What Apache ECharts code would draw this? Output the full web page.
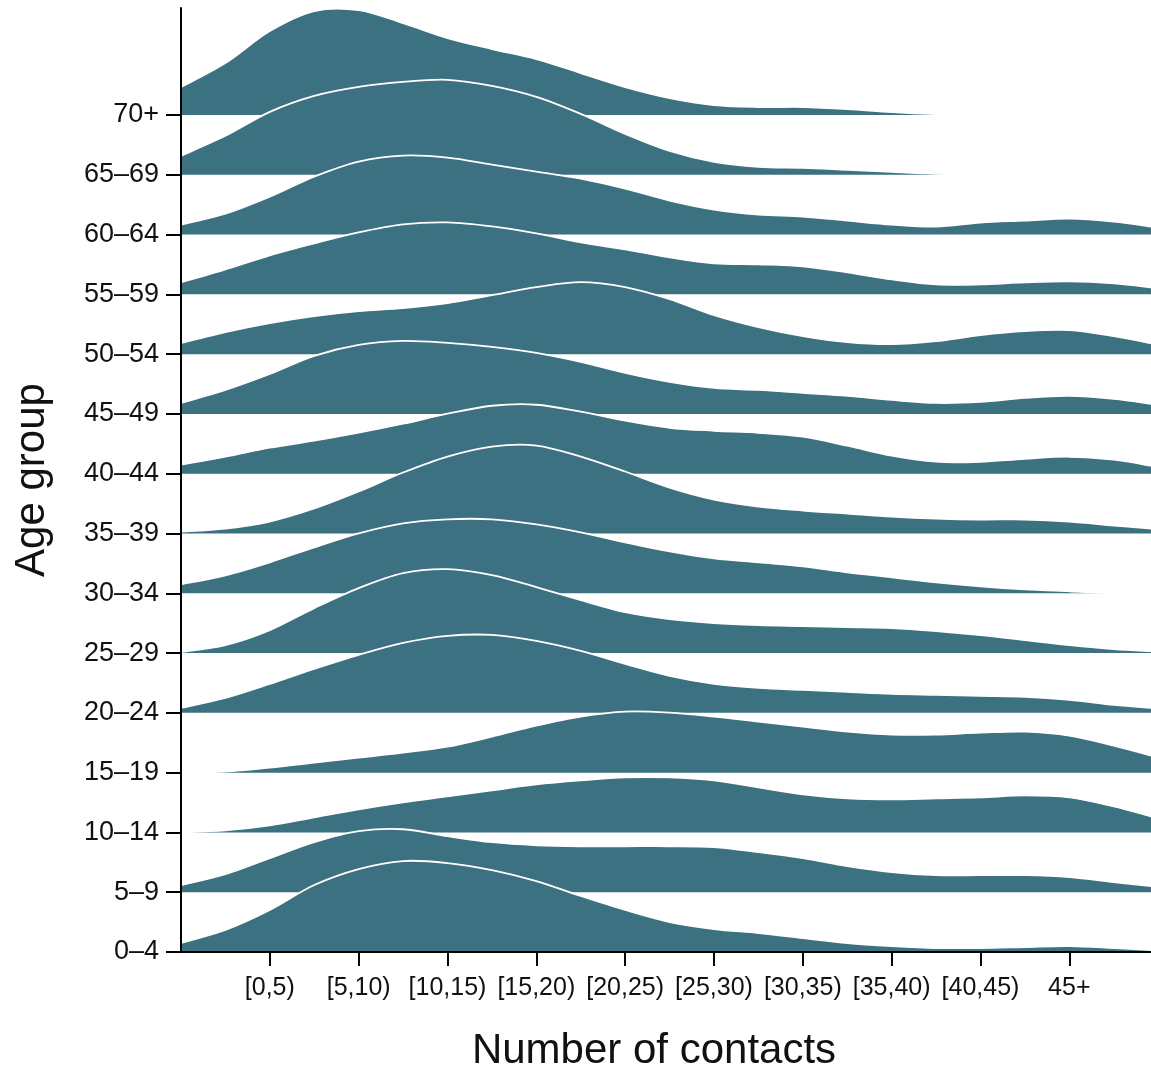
<!DOCTYPE html>
<html>
<head>
<meta charset="utf-8">
<script src="https://cdn.jsdelivr.net/npm/echarts@6/dist/echarts.min.js"></script>
<style>
html,body{margin:0;padding:0;background:#fff;}
#chart{width:1151px;height:1069px;}
</style>
</head>
<body>
<div id="chart"></div>
<script>
// Age groups (bottom to top)
const ageGroups = ['0–4','5–9','10–14','15–19','20–24','25–29','30–34','35–39','40–44','45–49','50–54','55–59','60–64','65–69','70+'];
// Contact-count categories (tick labels at positions 1..10)
const contactLabels = ['[0,5)','[5,10)','[10,15)','[15,20)','[20,25)','[25,30)','[30,35)','[35,40)','[40,45)','45+'];
// Sample positions along the contact axis
const xs = [0,0.5,1,1.5,2,2.5,3,3.5,4,4.5,5,5.5,6,6.5,7,7.5,8,8.5,9,9.5,10,10.5,10.92];
// Smoothed density (arbitrary units) per age group at xs
const d0_4   = [9,22,42,67,83,91,89,82,71,56,42,30,23,19,14,9,6,4,4,5,6,4,2];
const d5_9   = [7,18,34,50,61,63,56,50,47,46,46,46,45,40,34,26,20,17,17,17,15,10,6];
const d10_14 = [0,2,7,15,23,30,36,42,48,52,55,55,52,45,38,34,33,34,35,37,35,26,16];
const d15_19 = [0,1,5,10,15,20,26,36,47,56,61,60,56,51,46,41,38,38,40,41,37,27,17];
const d20_24 = [5,15,29,44,58,70,77,78,72,62,49,37,29,25,23,21,19,18,17,16,13,8,5];
const d25_29 = [1,8,23,45,65,80,84,78,66,53,41,34,30,28,27,26,25,22,18,13,8,4,2];
const d30_34 = [9,18,31,46,60,70,74,74,69,61,51,42,35,31,27,21,16,11,7,4,2,0,0];
const d35_39 = [2,5,12,25,42,61,77,87,88,77,62,46,34,27,23,20,17,15,14,14,12,8,5];
const d40_44 = [9,17,26,33,41,50,60,68,69,62,53,46,43,41,37,28,18,12,12,15,17,14,8];
const d45_49 = [11,24,40,58,69,73,71,67,61,52,41,32,26,24,21,18,14,11,12,16,18,15,10];
const d50_54 = [11,22,31,38,43,46,51,59,67,72,67,55,39,27,18,12,10,13,19,23,24,18,11];
const d55_59 = [12,25,39,51,62,70,72,68,61,52,45,37,31,30,28,22,15,10,10,12,13,11,7];
const d60_64 = [10,21,38,58,73,79,77,70,63,56,46,34,25,20,18,14,10,8,12,14,16,13,8];
const d65_69 = [19,39,63,79,88,93,95,89,78,61,41,24,13,8,7,5,3,1,0,0,0,0,0];
const d70p   = [28,52,84,104,105,92,77,66,56,42,28,17,10,8,8,6,3,1,0,0,0,0,0];

const densities = [d0_4,d5_9,d10_14,d15_19,d20_24,d25_29,d30_34,d35_39,d40_44,d45_49,d50_54,d55_59,d60_64,d65_69,d70p];
const SCALE = 1/59.8;
const FILL = '#3b7180';
const FONT = 'Liberation Sans';

// Catmull-Rom spline through pixel points, control points kept above the baseline
function splineSegments(pts, basePx) {
  let d = '';
  const n = pts.length;
  for (let i = 0; i < n - 1; i++) {
    const p0 = pts[Math.max(i - 1, 0)], p1 = pts[i], p2 = pts[i + 1], p3 = pts[Math.min(i + 2, n - 1)];
    const c1x = p1[0] + (p2[0] - p0[0]) / 6;
    const c1y = Math.min(basePx, p1[1] + (p2[1] - p0[1]) / 6);
    const c2x = p2[0] - (p3[0] - p1[0]) / 6;
    const c2y = Math.min(basePx, p2[1] - (p3[1] - p1[1]) / 6);
    d += ' C' + c1x + ' ' + c1y + ' ' + c2x + ' ' + c2y + ' ' + p2[0] + ' ' + p2[1];
  }
  return d;
}

function renderRidge(params, api) {
  const k = api.value(1);
  const vals = densities[k];
  const pts = xs.map((x, i) => api.coord([x, k + vals[i] * SCALE]));
  const basePx = api.coord([0, k])[1];
  const curve = splineSegments(pts, basePx);
  const first = pts[0], last = pts[pts.length - 1];
  const fillPath = 'M' + first[0] + ' ' + basePx + ' L' + first[0] + ' ' + first[1] + curve +
                   ' L' + last[0] + ' ' + basePx + ' Z';
  const linePath = 'M' + first[0] + ' ' + first[1] + curve;
  return {
    type: 'group',
    children: [
      {type: 'path', shape: {pathData: fillPath}, style: {fill: FILL, stroke: null}},
      {type: 'path', shape: {pathData: linePath}, style: {fill: null, stroke: '#ffffff', lineWidth: 1.8}}
    ]
  };
}

// draw top group first so lower ridges overlap upper ones
const drawOrder = ageGroups.map((g, i) => i).reverse();

const chart = echarts.init(document.getElementById('chart'), null, {renderer: 'canvas'});
chart.setOption({
  animation: false,
  backgroundColor: '#ffffff',
  grid: {left: 181, right: 0, top: 8, bottom: 117, containLabel: false, outerBoundsMode: 'none'},
  xAxis: [{
    type: 'value', min: 0, max: 10.92, interval: 1, z: 10,
    name: 'Number of contacts', nameLocation: 'middle', nameGap: 78,
    nameTextStyle: {fontFamily: FONT, fontSize: 42, color: '#111', padding: [0, 24, 0, 0]},
    axisLine: {show: true, onZero: false, lineStyle: {color: '#000', width: 2}},
    axisTick: {show: true, length: 14, lineStyle: {color: '#000', width: 2}, customValues: [1,2,3,4,5,6,7,8,9,10]},
    axisLabel: {show: true, margin: 24, fontFamily: FONT, fontSize: 25, color: '#111',
      customValues: [1,2,3,4,5,6,7,8,9,10],
      formatter: v => contactLabels[Math.round(v) - 1] || ''},
    splitLine: {show: false}
  }, {
    type: 'value', position: 'top', min: 0, max: 10.92, z: 10,
    axisLine: {show: true, lineStyle: {color: '#000', width: 2}},
    axisTick: {show: false}, axisLabel: {show: false}, splitLine: {show: false}
  }],
  yAxis: {
    type: 'value', min: 0, max: 15.79, interval: 1, z: 10,
    name: 'Age group', nameLocation: 'middle', nameGap: 128, nameRotate: 90,
    nameTextStyle: {fontFamily: FONT, fontSize: 42, color: '#111'},
    axisLine: {show: true, onZero: false, lineStyle: {color: '#000', width: 2}},
    axisTick: {show: true, length: 15, lineStyle: {color: '#000', width: 2}, customValues: [0,1,2,3,4,5,6,7,8,9,10,11,12,13,14]},
    axisLabel: {show: true, margin: 22, fontFamily: FONT, fontSize: 27, color: '#111',
      customValues: [0,1,2,3,4,5,6,7,8,9,10,11,12,13,14],
      formatter: v => ageGroups[Math.round(v)] || ''},
    splitLine: {show: false}
  },
  series: [{
    type: 'custom',
    coordinateSystem: 'cartesian2d',
    xAxisIndex: 0,
    data: drawOrder.map(k => [0, k]),
    renderItem: renderRidge,
    clip: true,
    silent: true,
    animation: false
  }]
});
</script>
</body>
</html>
